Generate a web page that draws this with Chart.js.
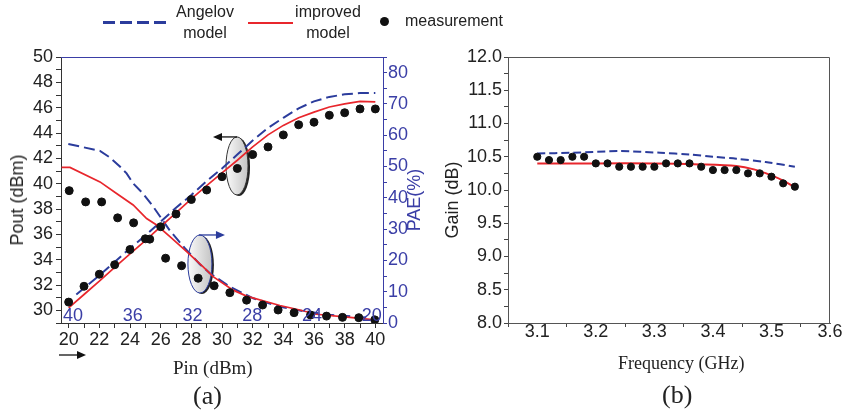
<!DOCTYPE html>
<html>
<head>
<meta charset="utf-8">
<script src="https://cdn.jsdelivr.net/npm/chart.js@4.4.1/dist/chart.umd.min.js"></script>
<style>
body{margin:0;background:#fff;}
#wrap{position:relative;width:847px;height:414px;overflow:hidden;font-family:"Liberation Sans",Arial,sans-serif;}
canvas{position:absolute;top:0;}
#ca{left:0;}
#cb{left:420px;}
.t{position:absolute;white-space:nowrap;color:#222;}
.serif{font-family:"Liberation Serif","Times New Roman",serif;}
.rot{transform:translate(-50%,-50%) rotate(-90deg);font-size:18px;line-height:20px;}
</style>
</head>
<body>
<div id="wrap">
  <canvas id="ca" width="420" height="414"></canvas>
  <canvas id="cb" width="427" height="414"></canvas>

  <!-- legend -->
  <div style="position:absolute;left:103px;top:21px;width:63px;height:3px;background:repeating-linear-gradient(90deg,#2b3c9c 0 12px,transparent 12px 17px);"></div>
  <div class="t" style="left:170px;top:1px;width:70px;text-align:center;font-size:16px;line-height:21px;">Angelov<br>model</div>
  <div style="position:absolute;left:248px;top:22px;width:45px;height:2px;background:#e8262c;"></div>
  <div class="t" style="left:288px;top:1px;width:80px;text-align:center;font-size:16px;line-height:21px;">improved<br>model</div>
  <div style="position:absolute;left:380px;top:17px;width:9px;height:9px;border-radius:50%;background:#111;"></div>
  <div class="t" style="left:405px;top:10px;font-size:16px;line-height:21px;">measurement</div>

  <!-- axis titles -->
  <div class="t rot" style="left:17px;top:200px;">Pout (dBm)</div>
  <div class="t rot" style="left:414px;top:200px;color:#3a3ea6;">PAE(%)</div>
  <div class="t rot" style="left:452px;top:200px;">Gain (dB)</div>
  <div class="t serif" style="left:173px;top:357px;font-size:19px;line-height:22px;">Pin (dBm)</div>
  <div class="t serif" style="left:193px;top:381px;font-size:26px;line-height:30px;">(a)</div>
  <div class="t serif" style="left:618px;top:352px;font-size:18px;line-height:22px;">Frequency (GHz)</div>
  <div class="t serif" style="left:662px;top:380px;font-size:26px;line-height:30px;">(b)</div>
</div>

<script>
// ---- panel (a): Pout vs Pin ----
var pinMeas = [20, 21, 22, 23, 24, 25, 26, 27, 28, 29, 30, 31, 32, 33, 34, 35, 36, 37, 38, 39, 40];
var poutMeas = [30.65, 31.9, 32.85, 33.6, 34.8, 35.65, 36.6, 37.6, 38.75, 39.5, 40.55, 41.2, 42.3, 42.9, 43.85, 44.65, 44.85, 45.4, 45.6, 45.9, 45.9];
var pinImproved = [20, 21, 22, 23, 24, 25, 26, 27, 28, 29, 30, 31, 32, 33, 34, 35, 36, 37, 38, 39, 40];
var poutImproved = [30.2, 31.25, 32.3, 33.4, 34.45, 35.5, 36.6, 37.7, 38.8, 39.85, 40.85, 41.85, 42.9, 43.85, 44.6, 45.2, 45.65, 46.05, 46.3, 46.5, 46.45];
var pinAngelov = [20.5, 22, 24, 25, 26, 27, 28, 29, 30, 31, 32, 33, 34, 35, 36, 37, 38, 39, 40];
var poutAngelov = [31.25, 32.75, 34.9, 35.9, 37.0, 38.1, 39.1, 40.2, 41.2, 42.3, 43.4, 44.4, 45.2, 45.95, 46.5, 46.85, 47.05, 47.15, 47.15];
var pinTicks = [20, 21, 22, 23, 24, 25, 26, 27, 28, 29, 30, 31, 32, 33, 34, 35, 36, 37, 38, 39, 40];

// ---- panel (a): PAE vs reversed inner axis ----
var poutAxisMeas = [40.25, 39.15, 38.08, 37.01, 35.94, 34.86, 33.8, 32.73, 31.62, 30.55, 29.5, 28.38, 27.31, 26.27, 25.2, 24.1, 23.03, 21.96, 20.87, 19.8];
var paeMeas = [42.3, 38.7, 38.7, 33.6, 32.0, 26.8, 20.7, 18.3, 14.3, 11.9, 9.7, 7.3, 5.75, 4.15, 3.3, 2.55, 2.2, 1.8, 1.7, 1.0];
var poutAxisImproved = [40.76, 40.2, 38.19, 37.08, 35.97, 35.07, 34.4, 33.51, 32.39, 31.3, 30.62, 29.28, 28.38, 26.15, 24.82, 23.7, 21.47, 19.8];
var paeImproved = [49.7, 49.7, 45.1, 41.4, 37.7, 33.4, 31.3, 27.6, 22.8, 18.0, 14.8, 10.5, 8.6, 5.6, 4.15, 2.8, 1.8, 1.0];
var poutAxisAngelov = [40.31, 38.19, 37.53, 36.86, 36.41, 35.97, 35.3, 34.63, 33.51, 32.51, 31.51, 30.84, 29.5, 27.94, 26.15, 24.82, 22.81, 19.93];
var paeAngelov = [57.2, 55.0, 52.9, 50.0, 47.8, 44.6, 41.3, 37.2, 29.5, 23.9, 18.8, 15.9, 11.6, 7.9, 5.2, 4.0, 2.6, 1.6];
var innerTicks = [40, 36, 32, 28, 24, 20];

// ---- panel (b): Gain vs Frequency ----
var freqMeas = [3.10, 3.12, 3.14, 3.16, 3.18, 3.20, 3.22, 3.24, 3.26, 3.28, 3.30, 3.32, 3.34, 3.36, 3.38, 3.40, 3.42, 3.44, 3.46, 3.48, 3.50, 3.52, 3.54];
var gainMeas = [10.50, 10.45, 10.45, 10.50, 10.50, 10.40, 10.40, 10.35, 10.35, 10.35, 10.35, 10.40, 10.40, 10.40, 10.35, 10.30, 10.30, 10.30, 10.25, 10.25, 10.20, 10.10, 10.05];
var freqImproved = [3.10, 3.20, 3.30, 3.38, 3.44, 3.47, 3.50, 3.52, 3.54];
var gainImproved = [10.40, 10.40, 10.40, 10.385, 10.36, 10.31, 10.22, 10.14, 10.04];
var freqAngelov = [3.10, 3.16, 3.24, 3.31, 3.36, 3.40, 3.44, 3.49, 3.54];
var gainAngelov = [10.55, 10.56, 10.585, 10.56, 10.535, 10.50, 10.47, 10.42, 10.35];
var freqTicks = [3.05, 3.1, 3.15, 3.2, 3.25, 3.3, 3.35, 3.4, 3.45, 3.5, 3.55, 3.6];

var BLUE = '#2b3c9c';
var RED = '#e8262c';
var AXBLUE = '#3a3ea6';
var FONT = '"Liberation Sans", Arial, sans-serif';

function pts(xs, ys) {
  return xs.map(function(x, i) { return {x: x, y: ys[i]}; });
}

function arrow(ctx, x1, y1, x2, y2, color) {
  var ang = Math.atan2(y2 - y1, x2 - x1);
  ctx.strokeStyle = color; ctx.fillStyle = color; ctx.lineWidth = 1.3;
  ctx.beginPath(); ctx.moveTo(x1, y1); ctx.lineTo(x2 - 6 * Math.cos(ang), y2 - 6 * Math.sin(ang)); ctx.stroke();
  ctx.beginPath();
  ctx.moveTo(x2, y2);
  ctx.lineTo(x2 - 9 * Math.cos(ang) + 4 * Math.sin(ang), y2 - 9 * Math.sin(ang) - 4 * Math.cos(ang));
  ctx.lineTo(x2 - 9 * Math.cos(ang) - 4 * Math.sin(ang), y2 - 9 * Math.sin(ang) + 4 * Math.cos(ang));
  ctx.closePath(); ctx.fill();
}

function ellipse(ctx, cx, cy, rx, ry, edge) {
  ctx.beginPath(); ctx.ellipse(cx + 2, cy + 1, rx, ry, 0, 0, Math.PI * 2);
  ctx.fillStyle = '#222'; ctx.fill();
  var g = ctx.createLinearGradient(cx - rx, 0, cx + rx, 0);
  g.addColorStop(0, '#fafafa'); g.addColorStop(1, '#c4c4c4');
  ctx.beginPath(); ctx.ellipse(cx, cy, rx, ry, 0, 0, Math.PI * 2);
  ctx.fillStyle = g; ctx.fill();
  ctx.strokeStyle = edge; ctx.lineWidth = 1; ctx.stroke();
}

// annotation anchors (in Pin / Pout units)
var markPout = {pin: 30.98, pout: 41.4};
var markPae = {pin: 28.56, pout: 33.66};

var decorA = {
  id: 'decorA',
  beforeDatasetsDraw: function(chart) {
    var ctx = chart.ctx, x = chart.scales.x, y = chart.scales.y;
    ctx.save();
    var cx = x.getPixelForValue(markPout.pin), cy = y.getPixelForValue(markPout.pout);
    ellipse(ctx, cx, cy, 11, 29, '#333');
    arrow(ctx, cx, cy - 29, cx - 24, cy - 29, '#111');
    cx = x.getPixelForValue(markPae.pin); cy = y.getPixelForValue(markPae.pout);
    ellipse(ctx, cx, cy, 12, 29, '#2b3c9c');
    arrow(ctx, cx - 1, cy - 29, cx + 25, cy - 29, BLUE);
    ctx.restore();
  },
  afterDatasetsDraw: function(chart) {
    var ctx = chart.ctx, a = chart.chartArea, x2 = chart.scales.x2;
    ctx.save();
    ctx.strokeStyle = AXBLUE; ctx.lineWidth = 1;
    ctx.beginPath(); ctx.moveTo(a.left, a.top + 0.5); ctx.lineTo(a.right, a.top + 0.5); ctx.stroke();
    ctx.fillStyle = AXBLUE; ctx.font = '18px ' + FONT;
    ctx.textAlign = 'center'; ctx.textBaseline = 'middle';
    innerTicks.forEach(function(v) { ctx.fillText(String(v), x2.getPixelForValue(v), a.bottom - 7); });
    arrow(ctx, a.left - 2, a.bottom + 32, a.left + 25, a.bottom + 32, '#111');
    ctx.restore();
  }
};

var frameB = {
  id: 'frameB',
  afterDatasetsDraw: function(chart) {
    var ctx = chart.ctx, a = chart.chartArea;
    ctx.save();
    ctx.strokeStyle = '#555'; ctx.lineWidth = 1;
    ctx.beginPath();
    ctx.moveTo(a.left, a.top + 0.5); ctx.lineTo(a.right - 0.5, a.top + 0.5); ctx.lineTo(a.right - 0.5, a.bottom);
    ctx.stroke();
    ctx.restore();
  }
};

var tickFont = {family: FONT, size: 18};

new Chart(document.getElementById('ca'), {
  type: 'scatter',
  data: {
    datasets: [
      {data: pts(pinMeas, poutMeas), xAxisID: 'x', yAxisID: 'y', backgroundColor: '#111', borderColor: '#111', pointRadius: 4, showLine: false},
      {data: pts(poutAxisMeas, paeMeas), xAxisID: 'x2', yAxisID: 'y2', backgroundColor: '#111', borderColor: '#111', pointRadius: 4, showLine: false},
      {data: pts(pinImproved, poutImproved), xAxisID: 'x', yAxisID: 'y', borderColor: RED, borderWidth: 1.7, pointRadius: 0, showLine: true},
      {data: pts(poutAxisImproved, paeImproved), xAxisID: 'x2', yAxisID: 'y2', borderColor: RED, borderWidth: 1.7, pointRadius: 0, showLine: true},
      {data: pts(pinAngelov, poutAngelov), xAxisID: 'x', yAxisID: 'y', borderColor: BLUE, borderWidth: 2, borderDash: [11, 5], pointRadius: 0, showLine: true},
      {data: pts(poutAxisAngelov, paeAngelov), xAxisID: 'x2', yAxisID: 'y2', borderColor: BLUE, borderWidth: 2, borderDash: [11, 5], pointRadius: 0, showLine: true}
    ]
  },
  options: {
    responsive: false,
    animation: false,
    layout: {padding: {top: 57, left: 0, right: 0, bottom: 0}},
    plugins: {legend: {display: false}, tooltip: {enabled: false}},
    scales: {
      x: {
        type: 'linear', position: 'bottom', min: 19.5, max: 40.5,
        afterFit: function(s) { s.height = 91; },
        afterBuildTicks: function(s) { s.ticks = pinTicks.map(function(v) { return {value: v}; }); },
        ticks: {autoSkip: false, maxRotation: 0, padding: 1, color: '#222', font: tickFont,
          callback: function(v) { return v % 2 === 0 ? v : ''; }},
        grid: {drawOnChartArea: false, tickLength: 5, color: '#333'},
        border: {color: '#333'}
      },
      x2: {type: 'linear', display: false, reverse: true, min: 19.25, max: 40.8},
      y: {
        position: 'left', min: 29, max: 50,
        afterFit: function(s) { s.width = 61; },
        ticks: {stepSize: 1, includeBounds: false, autoSkip: false, padding: 3, color: '#222', font: tickFont,
          callback: function(v) { return (v % 2 === 0 && v >= 30) ? v : ''; }},
        grid: {drawOnChartArea: false, tickLength: 5, color: '#333'},
        border: {color: '#333'}
      },
      y2: {
        position: 'right', min: 0, max: 85,
        afterFit: function(s) { s.width = 37; },
        ticks: {stepSize: 5, includeBounds: false, autoSkip: false, padding: 1, color: AXBLUE, font: tickFont,
          callback: function(v) { return v % 10 === 0 ? v : ''; }},
        grid: {drawOnChartArea: false, tickLength: 4, color: AXBLUE},
        border: {color: AXBLUE}
      }
    }
  },
  plugins: [decorA]
});

new Chart(document.getElementById('cb'), {
  type: 'scatter',
  data: {
    datasets: [
      {data: pts(freqMeas, gainMeas), backgroundColor: '#111', borderColor: '#111', pointRadius: 3.6, showLine: false},
      {data: pts(freqImproved, gainImproved), borderColor: RED, borderWidth: 2, pointRadius: 0, showLine: true, tension: 0.3},
      {data: pts(freqAngelov, gainAngelov), borderColor: BLUE, borderWidth: 2, borderDash: [8, 4], pointRadius: 0, showLine: true, tension: 0.3}
    ]
  },
  options: {
    responsive: false,
    animation: false,
    layout: {padding: {top: 57, left: 0, right: 17, bottom: 0}},
    plugins: {legend: {display: false}, tooltip: {enabled: false}},
    scales: {
      x: {
        type: 'linear', min: 3.05, max: 3.6,
        afterFit: function(s) { s.height = 91; },
        afterBuildTicks: function(s) { s.ticks = freqTicks.map(function(v) { return {value: v}; }); },
        ticks: {autoSkip: false, maxRotation: 0, padding: -6, color: '#222', font: tickFont,
          callback: function(v) { var k = Math.round(v * 100); return (k % 10 === 0 && k > 305) ? (k / 100).toFixed(1) : ''; }},
        grid: {drawOnChartArea: false, tickLength: 4, color: '#444',
          tickColor: function(c) { var k = Math.round(c.tick.value * 100); return k % 10 === 0 ? 'rgba(0,0,0,0)' : '#444'; }},
        border: {color: '#555'}
      },
      y: {
        min: 8, max: 12,
        afterFit: function(s) { s.width = 88; },
        ticks: {stepSize: 0.25, includeBounds: false, autoSkip: false, padding: 2, color: '#222', font: tickFont,
          callback: function(v) { var k = Math.round(v * 100); return k % 50 === 0 ? (k / 100).toFixed(1) : ''; }},
        grid: {drawOnChartArea: false, tickLength: 4, color: '#444'},
        border: {color: '#555'}
      }
    }
  },
  plugins: [frameB]
});
</script>
</body>
</html>
